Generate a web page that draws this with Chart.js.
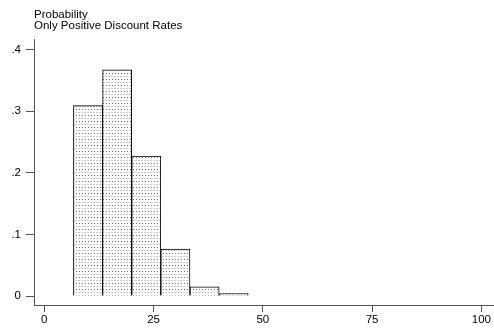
<!DOCTYPE html>
<html>
<head>
<meta charset="utf-8">
<script src="https://cdn.jsdelivr.net/npm/chart.js@4"></script>
<style>
  body { margin: 0; background: #fff; }
</style>
</head>
<body>
<canvas id="histChart" width="494" height="328"></canvas>
<script>
// histogram bins (discount rate) and probabilities
const binEdges = [6.667, 13.333, 20, 26.667, 33.333, 40, 46.667];
const probabilities = [0.309, 0.367, 0.227, 0.076, 0.015, 0.004];
const xTicks = [0, 25, 50, 75, 100];
const yTicks = [0, 0.1, 0.2, 0.3, 0.4];
const yTickLabels = ['0', '.1', '.2', '.3', '.4'];
const titleLines = ['Probability', 'Only Positive Discount Rates'];

const FONT = '"Liberation Sans", Arial, sans-serif';

// dotted fill like the original
function makePattern() {
    const p = document.createElement('canvas');
    p.width = 3;
    p.height = 6;
    const c = p.getContext('2d');
    c.fillStyle = '#fff';
    c.fillRect(0, 0, 3, 6);
    c.fillStyle = '#666';
    c.fillRect(1, 1, 1, 1);
    c.fillStyle = '#c8c8c8';
    c.fillRect(0, 4, 2, 1);
    return c.createPattern(p, 'repeat');
}

const points = probabilities.map((v, i) => ({
    x: (binEdges[i] + binEdges[i + 1]) / 2,
    y: v
}));

const titlePlugin = {
    id: 'topTitle',
    afterDraw(chart) {
        const ctx = chart.ctx;
        ctx.save();
        ctx.fillStyle = '#000';
        ctx.font = '11.5px ' + FONT;
        ctx.textBaseline = 'alphabetic';
        ctx.fillText(titleLines[0], 34, 18);
        ctx.fillText(titleLines[1], 34, 28.5);
        ctx.restore();
    }
};

const ctx = document.getElementById('histChart').getContext('2d');
new Chart(ctx, {
    type: 'bar',
    data: {
        datasets: [{
            data: points,
            backgroundColor: makePattern(),
            borderColor: '#000',
            borderWidth: 1,
            barPercentage: 1,
            categoryPercentage: 1
        }]
    },
    options: {
        responsive: false,
        animation: false,
        layout: { padding: { top: 39, left: 0, right: 0, bottom: 0 } },
        plugins: {
            legend: { display: false },
            tooltip: { enabled: false }
        },
        scales: {
            x: {
                type: 'linear',
                offset: false,
                min: -2.36,
                max: 102.9,
                afterFit: s => { s.height = 23; },
                afterBuildTicks: s => { s.ticks = xTicks.map(v => ({ value: v })); },
                grid: { display: true, offset: false, drawOnChartArea: false, tickLength: 7, color: '#555' },
                border: { display: true, color: '#555', width: 1 },
                ticks: {
                    color: '#000',
                    padding: 1,
                    maxRotation: 0,
                    font: { family: FONT, size: 11.5 }
                }
            },
            y: {
                min: -0.0146,
                max: 0.417,
                afterFit: s => { s.width = 34; },
                afterBuildTicks: s => { s.ticks = yTicks.map(v => ({ value: v })); },
                grid: { display: true, drawOnChartArea: false, tickLength: 8, color: '#555' },
                border: { display: true, color: '#555', width: 1 },
                ticks: {
                    color: '#000',
                    padding: 5,
                    font: { family: FONT, size: 11.5 },
                    callback: (v) => yTickLabels[yTicks.indexOf(v)] ?? ''
                }
            }
        }
    },
    plugins: [titlePlugin]
});
</script>
</body>
</html>
